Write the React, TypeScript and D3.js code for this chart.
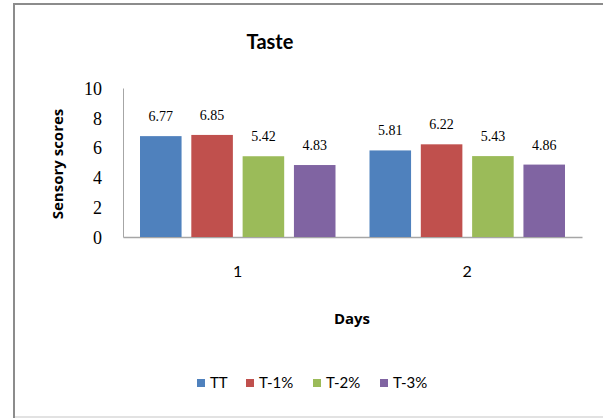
import { useRef, useEffect } from "react";
import * as d3 from "d3";

const days = ["1", "2"];
const series = ["TT", "T-1%", "T-2%", "T-3%"];
const colors = ["#4f81bd", "#c0504d", "#9bbb59", "#8064a2"];
// values per series, one per day
const TT = [6.77, 5.81];
const T1 = [6.85, 6.22];
const T2 = [5.42, 5.43];
const T3 = [4.83, 4.86];
const yTicks = [0, 2, 4, 6, 8, 10];

const App = () => {
  const container = useRef(null);

  useEffect(() => {
    drawChart();
  });

  const drawChart = () => {
    const values = [TT, T1, T2, T3];
    const width = 603;
    const height = 418;
    const plot = { l: 123, r: 582, t: 88, b: 237 };

    const svg = d3
      .select(container.current)
      .selectAll("svg")
      .data([0])
      .join("svg")
      .attr("width", width)
      .attr("height", height)
      .style("position", "absolute")
      .style("left", "0px")
      .style("top", "0px");

    svg.selectAll("*").remove();

    svg
      .append("rect")
      .attr("width", width)
      .attr("height", height)
      .attr("fill", "#fff");

    // outer chart border (cropped on the right)
    svg
      .append("path")
      .attr("d", `M14,${height} V4 H${width}`)
      .attr("fill", "none")
      .attr("stroke", "#8c8c8c")
      .attr("stroke-width", 2);
    svg
      .append("line")
      .attr("x1", 15)
      .attr("x2", width)
      .attr("y1", 417)
      .attr("y2", 417)
      .attr("stroke", "#d9d9d9")
      .attr("stroke-width", 1.5);

    const x0 = d3
      .scaleBand()
      .domain(days)
      .range([plot.l, plot.r]);

    const x1 = d3
      .scaleBand()
      .domain(series)
      .range([17, x0.bandwidth() - 17])
      .paddingInner(0.19);

    const y = d3
      .scaleLinear()
      .domain([0, 10])
      .range([plot.b, plot.t]);

    // title
    svg
      .append("text")
      .attr("x", 270)
      .attr("y", 49)
      .attr("text-anchor", "middle")
      .style("font-family", "Lato, 'Open Sans', sans-serif")
      .style("font-size", "20px")
      .style("font-weight", "bold")
      .text("Taste");

    // y axis
    const yAxis = d3
      .axisLeft(y)
      .tickValues(yTicks)
      .tickSize(0)
      .tickPadding(21)
      .tickFormat(d3.format("d"));

    const ya = svg
      .append("g")
      .attr("transform", `translate(${plot.l},0)`)
      .call(yAxis);
    ya.select(".domain").attr("stroke", "#a6a6a6").attr("stroke-width", 1);
    ya.selectAll("text")
      .attr("dy", "0.35em")
      .style("font-family", "'Liberation Serif', serif")
      .style("font-size", "18px")
      .style("fill", "#000");

    // x axis
    const xAxis = d3.axisBottom(x0).tickSize(0).tickPadding(29);
    const xa = svg
      .append("g")
      .attr("transform", `translate(0,${plot.b})`)
      .call(xAxis);
    xa.select(".domain").attr("stroke", "#a6a6a6").attr("stroke-width", 1.5);
    xa.selectAll("text")
      .style("font-family", "Lato, 'Open Sans', sans-serif")
      .style("font-size", "16px")
      .style("fill", "#000");

    // bars
    const groups = svg
      .append("g")
      .selectAll("g")
      .data(days)
      .join("g")
      .attr("transform", (d) => `translate(${x0(d)},0)`);

    groups
      .selectAll("rect")
      .data((d, i) => series.map((s, j) => ({ s, j, v: values[j][i] })))
      .join("rect")
      .attr("x", (d) => x1(d.s))
      .attr("width", x1.bandwidth())
      .attr("y", (d) => y(d.v))
      .attr("height", (d) => plot.b - y(d.v))
      .attr("fill", (d) => colors[d.j]);

    groups
      .selectAll("text")
      .data((d, i) => series.map((s, j) => ({ s, j, v: values[j][i] })))
      .join("text")
      .attr("x", (d) => x1(d.s) + x1.bandwidth() / 2)
      .attr("y", (d) => y(d.v) - 15)
      .attr("text-anchor", "middle")
      .style("font-family", "'Liberation Serif', serif")
      .style("font-size", "14px")
      .text((d) => d3.format(".2f")(d.v));

    // axis titles
    svg
      .append("text")
      .attr("transform", `translate(63,164) rotate(-90)`)
      .attr("text-anchor", "middle")
      .style("font-family", "'Open Sans', sans-serif")
      .style("font-size", "15px")
      .style("font-weight", "bold")
      .text("Sensory scores");

    svg
      .append("text")
      .attr("x", 352)
      .attr("y", 324)
      .attr("text-anchor", "middle")
      .style("font-family", "'Open Sans', sans-serif")
      .style("font-size", "15px")
      .style("font-weight", "bold")
      .text("Days");

    // legend
    const legendX = [197, 246, 313, 380];
    const legend = svg
      .append("g")
      .selectAll("g")
      .data(series)
      .join("g")
      .attr("transform", (d, i) => `translate(${legendX[i]},383)`);
    legend
      .append("rect")
      .attr("x", 0)
      .attr("y", -4)
      .attr("width", 8)
      .attr("height", 8)
      .attr("fill", (d, i) => colors[i]);
    legend
      .append("text")
      .attr("x", 13)
      .attr("y", 0)
      .attr("dy", "0.35em")
      .style("font-family", "Lato, 'Open Sans', sans-serif")
      .style("font-size", "15px")
      .text((d) => d);
  };

  return <div ref={container}></div>;
};

export default App;
